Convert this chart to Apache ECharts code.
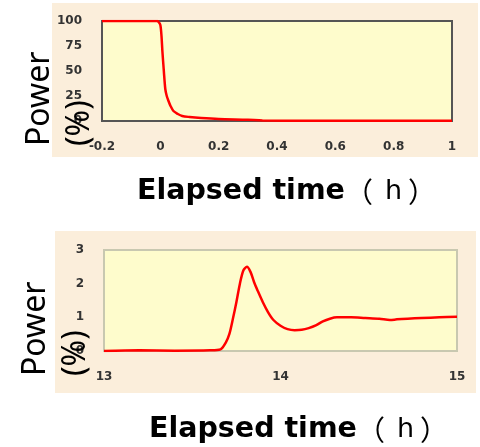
<!DOCTYPE html>
<html>
<head>
<meta charset="utf-8">
<script src="https://cdn.jsdelivr.net/npm/echarts@6/dist/echarts.min.js"></script>
<style>
  html, body { margin: 0; padding: 0; background: #fff; }
  #chart { width: 480px; height: 447px; }
</style>
</head>
<body>
<div id="chart"></div>
<script>
// top panel: power drop around t = 0
const topTime = [-0.2, -0.1, -0.01, -0.006, 0, 0.004, 0.007, 0.012, 0.017, 0.022, 0.028, 0.035, 0.045, 0.06, 0.075, 0.1, 0.14, 0.2, 0.3, 0.35, 0.5, 1];
const topPower = [100, 100, 100, 99, 96, 85, 70, 50, 32, 25, 20, 15, 10, 7, 5, 4, 3, 2, 1.2, 0.5, 0.2, 0.2];
// bottom panel: power rise between 13 h and 15 h
const botTime = [13, 13.2, 13.4, 13.6, 13.66, 13.69, 13.71, 13.73, 13.75, 13.77, 13.79, 13.81, 13.83, 13.85, 13.87, 13.9, 13.93, 13.96, 14.0, 14.04, 14.08, 14.12, 14.16, 14.2, 14.24, 14.28, 14.32, 14.4, 14.48, 14.56, 14.62, 14.66, 14.72, 14.8, 14.9, 15];
const botPower = [0, 0.02, 0.01, 0.02, 0.05, 0.25, 0.5, 0.95, 1.45, 2.0, 2.4, 2.5, 2.35, 2.05, 1.8, 1.45, 1.15, 0.92, 0.75, 0.65, 0.62, 0.63, 0.68, 0.76, 0.88, 0.96, 1.0, 1.0, 0.98, 0.96, 0.92, 0.94, 0.96, 0.98, 1.0, 1.02];

const yLabel = 'Power\n(%)';
const xLabel = 'Elapsed time';

const pair = (xs, ys) => xs.map((x, i) => [x, ys[i]]);

const tickFont = {
    color: '#333',
    fontSize: 12,
    fontWeight: 'bold',
    fontFamily: 'DejaVu Sans'
};

const makeX = (grid, min, max, interval) => ({
    type: 'value',
    gridIndex: grid,
    min: min,
    max: max,
    interval: interval,
    axisLine: { show: false },
    axisTick: { show: true, inside: true, length: 3, lineStyle: { color: '#999' } },
    splitLine: { show: false },
    axisLabel: Object.assign({ margin: 20 }, tickFont)
});

const makeY = (grid, min, max, interval) => ({
    type: 'value',
    gridIndex: grid,
    min: min,
    max: max,
    interval: interval,
    axisLine: { show: true, lineStyle: { color: '#444', width: 2 } },
    axisTick: { show: true, inside: true, length: 3, lineStyle: { color: '#999' } },
    splitLine: { show: false },
    axisLabel: Object.assign({ margin: 20 }, tickFont)
});

const lineSeries = (xi, yi, data) => ({
    type: 'line',
    xAxisIndex: xi,
    yAxisIndex: yi,
    data: data,
    showSymbol: false,
    smooth: 0.3,
    lineStyle: { color: '#ff0000', width: 2.5 },
    z: 5
});

const titleText = (left, cy) => ({
    type: 'text',
    x: left,
    y: cy,
    style: {
        text: '{b|' + xLabel + '}{p|（}{h|h}{p|）}',
        align: 'left',
        verticalAlign: 'middle',
        rich: {
            b: { fontSize: 28.5, fontWeight: 'bold', fontFamily: 'DejaVu Sans', fill: '#000', lineHeight: 34 },
            p: { fontSize: 28, fontFamily: 'Noto Sans CJK SC', fill: '#000', lineHeight: 34 },
            h: { fontSize: 27, fontFamily: 'DejaVu Sans', fill: '#000', lineHeight: 34, padding: [0, 6, 0, 12] }
        }
    }
});

const powerText = (x, y) => ({
    type: 'text',
    x: x,
    y: y,
    rotation: Math.PI / 2,
    z: 10,
    style: {
        text: yLabel,
        fontSize: 32,
        lineHeight: 40,
        fontFamily: 'Noto Sans',
        fill: '#000',
        align: 'left',
        verticalAlign: 'top'
    }
});

const chart = echarts.init(document.getElementById('chart'));
chart.setOption({
    backgroundColor: '#fff',
    animation: false,
    grid: [
        { left: 102, top: 21, width: 350, height: 100, show: true, backgroundColor: '#fefccc', borderColor: '#555', borderWidth: 2, z: 2 },
        { left: 104, top: 250, width: 353, height: 101, show: true, backgroundColor: '#fefccc', borderColor: '#c8c8b0', borderWidth: 2, z: 2 }
    ],
    xAxis: [
        makeX(0, -0.2, 1, 0.2),
        makeX(1, 13, 15, 1),
        { type: 'value', gridIndex: 1, position: 'top', min: 13, max: 15, axisLine: { show: true, lineStyle: { color: '#444', width: 2 } }, axisTick: { show: false }, axisLabel: { show: false }, splitLine: { show: false } }
    ],
    yAxis: [
        makeY(0, 0, 100, 25),
        makeY(1, 0, 3, 1)
    ],
    graphic: [
        { type: 'rect', shape: { x: 52, y: 3, width: 426, height: 154 }, style: { fill: '#fbeedb' }, z: -10 },
        { type: 'rect', shape: { x: 55, y: 231, width: 421, height: 162 }, style: { fill: '#fbeedb' }, z: -10 },
        powerText(20, 146),
        powerText(16, 376),
        titleText(137, 192),
        titleText(149, 430)
    ],
    series: [
        lineSeries(0, 0, pair(topTime, topPower)),
        lineSeries(1, 1, pair(botTime, botPower))
    ]
});
</script>
</body>
</html>
